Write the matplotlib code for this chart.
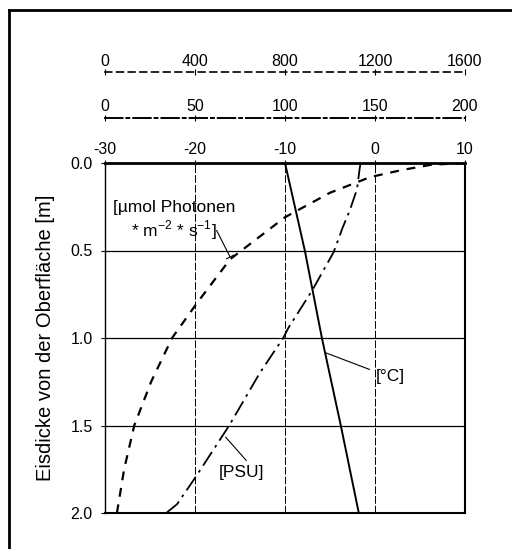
import numpy as np
import matplotlib.pyplot as plt
from matplotlib.lines import Line2D
from matplotlib.ticker import FormatStrFormatter

plt.rcParams['font.family'] = ['Liberation Sans', 'DejaVu Sans']
plt.rcParams['axes.unicode_minus'] = False

# temperature [°C] vs depth
depth_temp = [0.0, 0.5, 1.0, 1.5, 2.0]
temp = [-10.0, -7.8, -5.9, -3.8, -1.8]

# salinity [PSU] vs depth
depth_psu = [0.0, 0.03, 0.15, 0.27, 0.37, 0.51, 0.73, 0.94, 1.0, 1.2, 1.5, 1.8, 1.95, 2.0]
psu = [142, 141.5, 140, 136, 132, 127, 115, 102, 99, 86, 69, 50, 40, 34]

# light [umol photons m-2 s-1] vs depth
depth_light = [0.0, 0.01, 0.04, 0.08, 0.17, 0.31, 0.55, 0.8, 1.0, 1.25, 1.5, 1.75, 2.0]
light = [1600, 1450, 1320, 1180, 1000, 800, 556, 409, 298, 205, 130, 85, 53]

temp_ticks = [-30, -20, -10, 0, 10]
light_ticks = [0, 400, 800, 1200, 1600]
psu_ticks = [0, 50, 100, 150, 200]
depth_ticks = [0.0, 0.5, 1.0, 1.5, 2.0]

fs = 11.5
fa = 12.5

fig = plt.figure(figsize=(5.12, 5.49), dpi=100)
ax = fig.add_axes([105/512, 1 - 513/549, 360/512, 350/549])

# -------------------------------- main axis (temperature) ---------------------
ax.plot(temp, depth_temp, color='black', lw=1.4, zorder=5)
ax.set_xlim(-30, 10)
ax.set_ylim(2.0, 0.0)
ax.set_xticks(temp_ticks)
ax.set_yticks(depth_ticks)
ax.yaxis.set_major_formatter(FormatStrFormatter('%.1f'))
ax.set_ylabel('Eisdicke von der Oberfläche [m]', fontsize=14.5, labelpad=11)

for x in temp_ticks[1:-1]:
    ax.axvline(x, color='black', lw=0.7, ls=(0, (8, 2)), zorder=1)
for y in depth_ticks[1:-1]:
    ax.axhline(y, color='black', lw=0.9, zorder=1)

ax.spines['top'].set_linewidth(2.0)
ax.spines['bottom'].set_linewidth(1.5)
ax.spines['left'].set_linewidth(1.0)
ax.spines['right'].set_linewidth(1.5)

# -------------------------------- light axis ----------------------------------
ax_l = ax.twiny()
ax_l.plot(light, depth_light, color='black', lw=1.6, ls=(0, (4, 3.5)), zorder=5)
ax_l.set_xlim(0, 1600)
ax_l.set_xticks(light_ticks)
ax_l.spines['top'].set_position(('axes', 1.26))
ax_l.spines['top'].set_linestyle((0, (4, 3)))
ax_l.spines['top'].set_linewidth(1.2)
for s in ['bottom', 'left', 'right']:
    ax_l.spines[s].set_visible(False)
ax_l.tick_params(axis='x', direction='inout', length=4, width=0.8, labelsize=fs, pad=0.5)

# -------------------------------- salinity axis -------------------------------
ax_s = ax.twiny()
ax_s.plot(psu, depth_psu, color='black', lw=1.3, ls=(0, (9, 3, 1.5, 3)), zorder=5)
ax_s.set_xlim(0, 200)
ax_s.set_xticks(psu_ticks)
ax_s.spines['top'].set_position(('axes', 1.129))
ax_s.spines['top'].set_linestyle((0, (9, 2, 1.5, 2)))
ax_s.spines['top'].set_linewidth(1.4)
for s in ['bottom', 'left', 'right']:
    ax_s.spines[s].set_visible(False)
ax_s.tick_params(axis='x', direction='inout', length=4, width=0.8, labelsize=fs, pad=1)

# twiny() resets the main x axis to the bottom, so move it back up
ax.xaxis.tick_top()
ax.tick_params(axis='x', which='both', bottom=False, labelbottom=False, top=True, labeltop=True,
               direction='inout', length=4, width=0.8, labelsize=fs, pad=2)
ax.tick_params(axis='y', direction='out', length=3, width=0.8, labelsize=fs, pad=6)

# -------------------------------- labels --------------------------------------
ax.text(-22.3, 0.33, '[µmol Photonen\n* m$^{\\mathregular{-2}}$ * s$^{\\mathregular{-1}}$]',
        ha='center', va='center', fontsize=fa, linespacing=1.2)
ax.annotate('', xy=(-16.1, 0.537), xytext=(-17.6, 0.385),
            arrowprops=dict(arrowstyle='-[, widthB=0.3, lengthB=0', lw=0.8, color='black',
                            shrinkA=0, shrinkB=0))

ax.text(1.7, 1.22, '[°C]', ha='center', va='center', fontsize=fa)
ax.annotate('', xy=(-5.4, 1.086), xytext=(-0.6, 1.18),
            arrowprops=dict(arrowstyle='-', lw=0.8, color='black', shrinkA=0, shrinkB=0))

ax.text(-14.8, 1.77, '[PSU]', ha='center', va='center', fontsize=fa)
ax.annotate('', xy=(-16.6, 1.566), xytext=(-14.3, 1.70),
            arrowprops=dict(arrowstyle='-', lw=0.8, color='black', shrinkA=0, shrinkB=0))

# outer frame (left and top edges visible)
fig.add_artist(Line2D([9/512, 9/512], [0, 1 - 10/549], color='black', lw=2.0))
fig.add_artist(Line2D([9/512, 1], [1 - 10/549, 1 - 10/549], color='black', lw=2.0))

plt.savefig('out.png', dpi=100)
plt.close()
